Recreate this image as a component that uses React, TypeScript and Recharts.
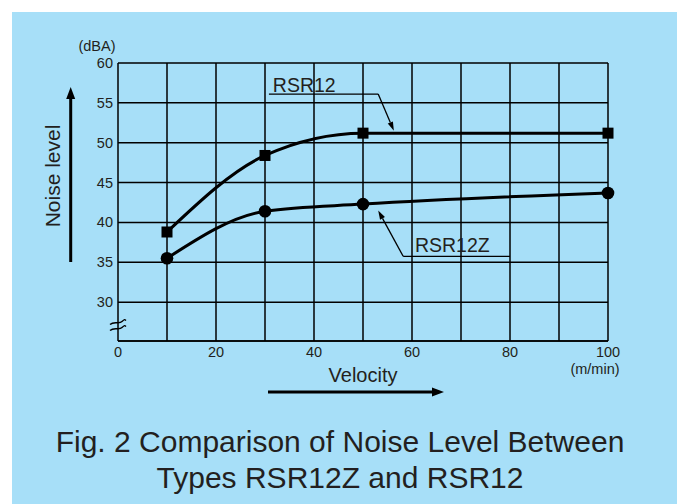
import React from "react";
import {
  LineChart,
  Line,
  XAxis,
  YAxis,
  CartesianGrid,
  ReferenceLine,
  ReferenceDot,
} from "recharts";

const velocity = [10, 30, 50, 100];
const rsr12 = [38.8, 48.4, 51.2, 51.2];
const rsr12z = [35.5, 41.4, 42.3, 43.7];
const xTicks = [0, 10, 20, 30, 40, 50, 60, 70, 80, 90, 100];
const yTicks = [30, 35, 40, 45, 50, 55, 60];

const data = velocity.map((v, i) => ({ v, rsr12: rsr12[i], rsr12z: rsr12z[i] }));

const FONT = '"Liberation Sans", Arial, Helvetica, sans-serif';
const INK = "#231f20";
const BG = "#a7dff8";

const XTick = (p: any) => {
  const val = p.payload.value;
  if (val % 20 !== 0) return null;
  return (
    <text x={p.x} y={p.y + 11} textAnchor="middle" dominantBaseline="central" fontSize={14.5} fontFamily={FONT} fill={INK}>
      {val}
    </text>
  );
};

const YTick = (p: any) => (
  <text x={p.x - 5} y={p.y} textAnchor="end" dominantBaseline="central" fontSize={14.5} fontFamily={FONT} fill={INK}>
    {p.payload.value}
  </text>
);

const SquareDot = (p: any) => (
  <rect key={`s${p.index}`} x={p.cx - 5.5} y={p.cy - 5.5} width={11} height={11} fill="#000" />
);
const CircleDot = (p: any) => <circle key={`c${p.index}`} cx={p.cx} cy={p.cy} r={6.3} fill="#000" />;

const plainSeg = (p: any) => (
  <line x1={p.x1} y1={p.y1} x2={p.x2} y2={p.y2} stroke="#000" strokeWidth={1.3} />
);
const arrowSeg = (p: any) => {
  const dx = p.x2 - p.x1;
  const dy = p.y2 - p.y1;
  const len = Math.sqrt(dx * dx + dy * dy) || 1;
  const ux = dx / len;
  const uy = dy / len;
  const hl = 9;
  const hw = 2.8;
  const bx = p.x2 - ux * hl;
  const by = p.y2 - uy * hl;
  return (
    <g>
      <line x1={p.x1} y1={p.y1} x2={bx} y2={by} stroke="#000" strokeWidth={1.3} />
      <polygon
        points={`${p.x2},${p.y2} ${bx - uy * hw},${by + ux * hw} ${bx + uy * hw},${by - ux * hw}`}
        fill="#000"
      />
    </g>
  );
};

const labelShape = (txt: string) => (p: any) => (
  <text x={p.cx} y={p.cy} fontSize={19.5} fontFamily={FONT} fill={INK}>
    {txt}
  </text>
);

const breakShape = (p: any) => {
  const x = p.cx;
  const y = p.cy;
  return (
    <g fill="none" stroke="#000" strokeWidth={1.4}>
      <path d={`M ${x - 8} ${y - 1} C ${x - 4} ${y - 5}, ${x + 1} ${y - 1}, ${x + 4} ${y - 4} S ${x + 7} ${y - 6}, ${x + 8} ${y - 5}`} />
      <path d={`M ${x - 8} ${y + 5} C ${x - 4} ${y + 1}, ${x + 1} ${y + 5}, ${x + 4} ${y + 2} S ${x + 7} ${y}, ${x + 8} ${y + 1}`} />
    </g>
  );
};

export default function App() {
  return (
    <div style={{ position: "absolute", left: 0, top: 0, width: 677, height: 504, background: "#fff", overflow: "hidden" }}>
      <div style={{ position: "absolute", left: 12, top: 12, width: 665, height: 492, background: BG }} />
      <div style={{ position: "absolute", left: 0, top: 0 }}>
        <LineChart width={677} height={504} data={data} margin={{ top: 63, right: 69, bottom: 133, left: 58 }}>
          <CartesianGrid stroke="#000" strokeWidth={1.5} strokeDasharray="" />
          <XAxis
            dataKey="v"
            type="number"
            domain={[0, 100]}
            ticks={xTicks}
            interval={0}
            tickSize={0}
            tickMargin={0}
            tickLine={false}
            axisLine={{ stroke: "#000", strokeWidth: 1.5 }}
            tick={<XTick />}
          />
          <YAxis
            type="number"
            domain={[25.125, 60]}
            allowDataOverflow
            ticks={yTicks}
            interval={0}
            tickSize={0}
            tickMargin={0}
            tickLine={false}
            axisLine={false}
            tick={<YTick />}
          />
          <Line type="monotone" dataKey="rsr12" stroke="#000" strokeWidth={3} dot={<SquareDot />} isAnimationActive={false} />
          <Line type="monotone" dataKey="rsr12z" stroke="#000" strokeWidth={3} dot={<CircleDot />} isAnimationActive={false} />
          <ReferenceLine segment={[{ x: 30.8, y: 56.1 }, { x: 53.1, y: 56.1 }]} shape={plainSeg} ifOverflow="visible" />
          <ReferenceLine segment={[{ x: 53.1, y: 56.1 }, { x: 56.3, y: 51.5 }]} shape={arrowSeg} ifOverflow="visible" />
          <ReferenceLine segment={[{ x: 58.2, y: 35.75 }, { x: 80.0, y: 35.75 }]} shape={plainSeg} ifOverflow="visible" />
          <ReferenceLine segment={[{ x: 58.2, y: 35.75 }, { x: 53.1, y: 41.5 }]} shape={arrowSeg} ifOverflow="visible" />
          <ReferenceDot x={31.6} y={56.4} r={0} shape={labelShape("RSR12")} ifOverflow="visible" />
          <ReferenceDot x={60.6} y={36.25} r={0} shape={labelShape("RSR12Z")} ifOverflow="visible" />
          <ReferenceDot x={0} y={27.06} r={0} shape={breakShape} ifOverflow="visible" />
        </LineChart>
      </div>
      <svg width={677} height={504} style={{ position: "absolute", left: 0, top: 0, pointerEvents: "none" }}>
        <g fontFamily={FONT} fill={INK}>
          <text x={97} y={51} textAnchor="middle" fontSize={14.5}>(dBA)</text>
          <text x={595} y={374} textAnchor="middle" fontSize={14.5}>(m/min)</text>
          <text x={52.5} y={176} textAnchor="middle" dominantBaseline="central" fontSize={21} transform="rotate(-90 52.5 176)">
            Noise level
          </text>
          <text x={363} y={382} textAnchor="middle" fontSize={20}>Velocity</text>
          <text x={340} y={452} textAnchor="middle" fontSize={30}>Fig. 2 Comparison of Noise Level Between</text>
          <text x={340} y={488} textAnchor="middle" fontSize={30}>Types RSR12Z and RSR12</text>
        </g>
        <line x1={70.7} y1={262} x2={70.7} y2={97} stroke="#000" strokeWidth={3} />
        <polygon points="70.7,87 66.2,99 75.2,99" fill="#000" />
        <line x1={268} y1={392} x2={434} y2={392} stroke="#000" strokeWidth={3} />
        <polygon points="444,392 432,387.5 432,396.5" fill="#000" />
      </svg>
    </div>
  );
}
